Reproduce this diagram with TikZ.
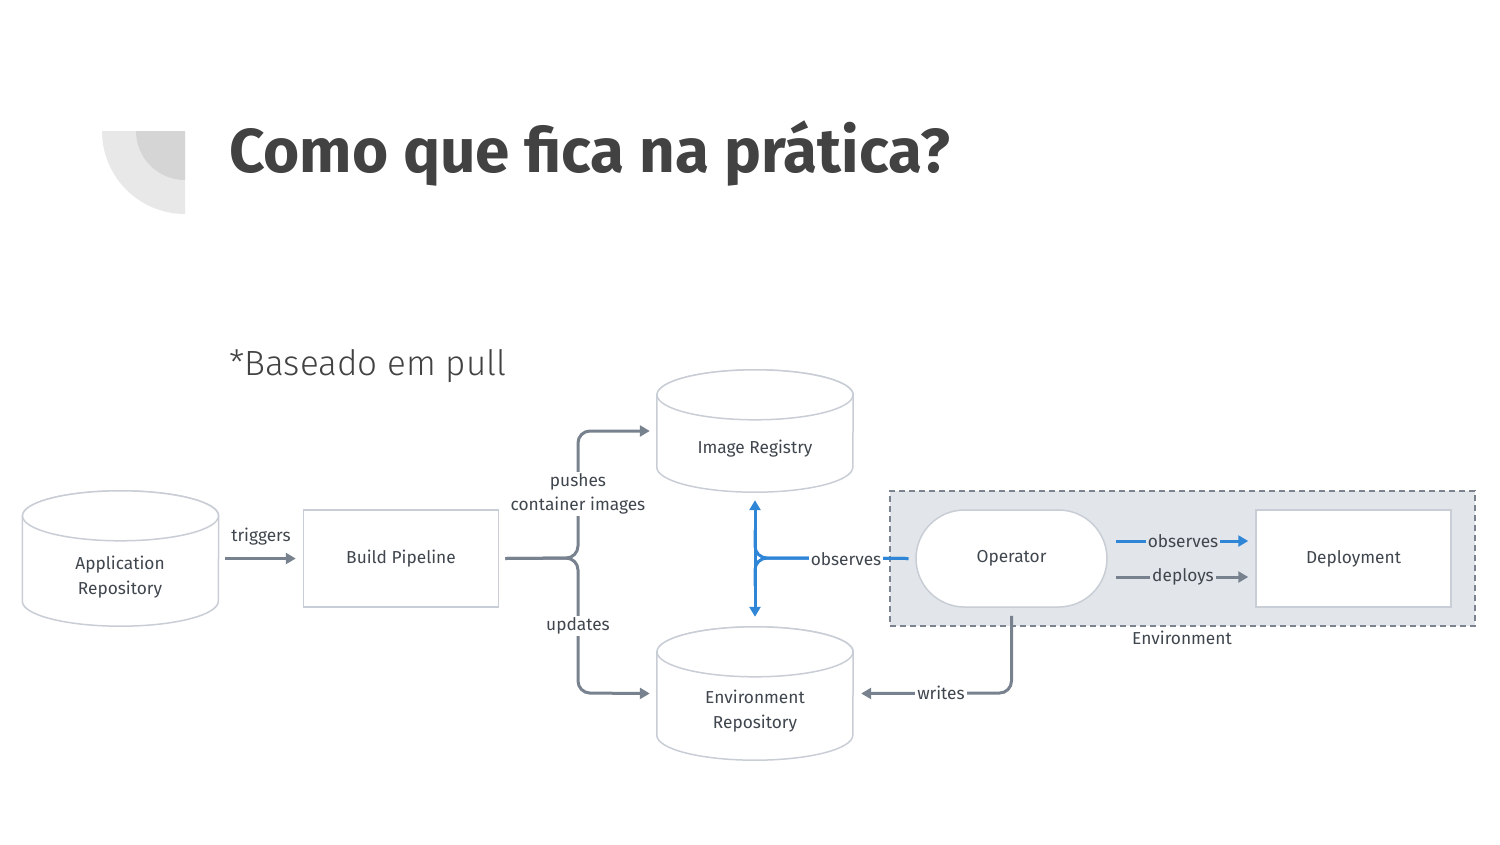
\documentclass[tikz,border=0pt]{standalone}
\usepackage{fontspec}
\setmainfont{Fira Sans}
\newfontfamily\lightfont{Fira Sans Light}
\usepackage{xcolor}
\usetikzlibrary{shapes.misc,arrows.meta}
\definecolor{slate}{HTML}{78828F}
\definecolor{obsblue}{HTML}{2F86D6}
\definecolor{boxline}{HTML}{C9CED6}
\definecolor{envfill}{HTML}{E2E6EB}
\definecolor{envline}{HTML}{7B838F}
\definecolor{txtgray}{HTML}{40464E}
\definecolor{titlegray}{HTML}{424242}
\definecolor{decolight}{HTML}{E8E8E8}
\definecolor{decodark}{HTML}{D5D5D5}

\begin{document}
\begin{tikzpicture}[x=1pt,y=-1pt,
  every node/.style={text=txtgray, font=\fontsize{17.3}{25}\selectfont, inner sep=2pt},
  repo/.style={rectangle, minimum width=196pt, minimum height=135pt, inner sep=0pt},
  repoline/.style={draw=boxline, fill=white, line width=1.5pt},
  box/.style={rectangle, draw=boxline, fill=white, line width=1.5pt,
    minimum width=195pt, minimum height=97pt},
  stadium/.style={rounded rectangle, draw=boxline, fill=white, line width=1.5pt,
    minimum width=195pt, minimum height=97pt},
  envbox/.style={rectangle, draw=envline, fill=envfill, line width=1.5pt,
    dash pattern=on 6pt off 4pt, minimum width=585pt, minimum height=135pt},
  flow/.style={draw=slate, line width=3pt, rounded corners=12pt,
    -{Triangle[length=10pt,width=11pt]}},
  obs/.style={draw=obsblue, line width=3pt, rounded corners=12pt},
  tip/.style={-{Triangle[length=10pt,width=11pt]}},
  gap/.style={fill=white, inner sep=2pt}
]
\useasboundingbox (0,0) rectangle (1500,844);

% Corner mark
\fill[decolight] (185,131) -- (102,131) arc[start angle=180, end angle=90, radius=83] -- cycle;
\fill[decodark] (185,131) -- (136,131) arc[start angle=180, end angle=90, radius=49] -- cycle;

% Titles
\node[anchor=base west, inner sep=0pt, text=titlegray, font=\fontsize{62}{66}\selectfont\bfseries] (title) at (229,172) {Como que fica na prática?};
\node[anchor=base west, inner sep=0pt, text=titlegray, font=\lightfont\fontsize{35}{40}\selectfont] (sub) at (229,375) {*Baseado em pull};

% Points
\node[envbox] (env) at (1182.5,558.5) {};
\node (envlbl) at (1182,638) {Environment};
\node[repo] (app) at (120.5,558.5) {};
\node[repo, minimum height=122pt] (reg) at (755,431) {};
\node[repo, minimum height=133pt] (envrepo) at (755,693.5) {};

% Drums
\foreach \n in {app,reg,envrepo} {
  \filldraw[repoline] ([yshift=-25pt]\n.north west) -- ([yshift=25pt]\n.south west)
    arc[start angle=180, end angle=0, x radius=98, y radius=25]
    -- ([yshift=-25pt]\n.north east)
    arc[start angle=0, end angle=-180, x radius=98, y radius=25] -- cycle;
  \draw[repoline] ([yshift=-25pt]\n.north) ellipse[x radius=98, y radius=25];
}

\node[align=center] (apptxt) at (120,577) {Application\\Repository};
\node (regtxt) at (755,449) {Image Registry};
\node[align=center] (envrepotxt) at (755,711) {Environment\\Repository};
\node[box] (build) at (401,558.5) {Build Pipeline};
\node[stadium] (op) at (1011.5,558.5) {Operator};
\node[box] (dep) at (1353.5,558.5) {Deployment};

%Lines
\draw[flow, rounded corners=0pt] ([xshift=6pt]app.east) -- ([xshift=-7pt]build.west);
\node (trig) at (261,537) {triggers};
\draw[flow] ([xshift=6pt]build.east) -- (578,558) -- (578,431) -- ([xshift=-7pt]reg.west);
\draw[flow] ([xshift=6pt]build.east) -- (578,558) -- (578,693) -- ([xshift=-7pt]envrepo.west);
\node[gap, align=center, font=\fontsize{17.3}{24}\selectfont] (push) at (578,494) {pushes\\container images};
\node[gap] (upd) at (578,626) {updates};

\draw[obs, rounded corners=0pt, {Triangle[length=10pt,width=11pt]}-{Triangle[length=10pt,width=11pt]}] ([yshift=-8pt]reg.south) -- ([yshift=10pt]envrepo.north);
\draw[obs] ([xshift=-7pt]op.west) -- (755,558) -- (755,530);
\draw[obs] ([xshift=-7pt]op.west) -- (755,558) -- (755,586);
\node[gap] (obs1) at (846,559) {observes};

\draw[obs, tip] ([shift={(8pt,17.5pt)}]op.east) -- ([shift={(-7pt,17.5pt)}]dep.west);
\node[gap, fill=envfill] (obs2) at (1183,541) {observes};
\draw[flow] ([shift={(8pt,-18.5pt)}]op.east) -- ([shift={(-7pt,-18.5pt)}]dep.west);
\node[gap, fill=envfill] (depl) at (1183,577) {deploys};

\draw[flow] ([yshift=-8pt]op.south) -- (1011.5,693) -- ([xshift=8pt]envrepo.east);
\node[gap] (wri) at (941,693) {writes};
\end{tikzpicture}
\end{document}
